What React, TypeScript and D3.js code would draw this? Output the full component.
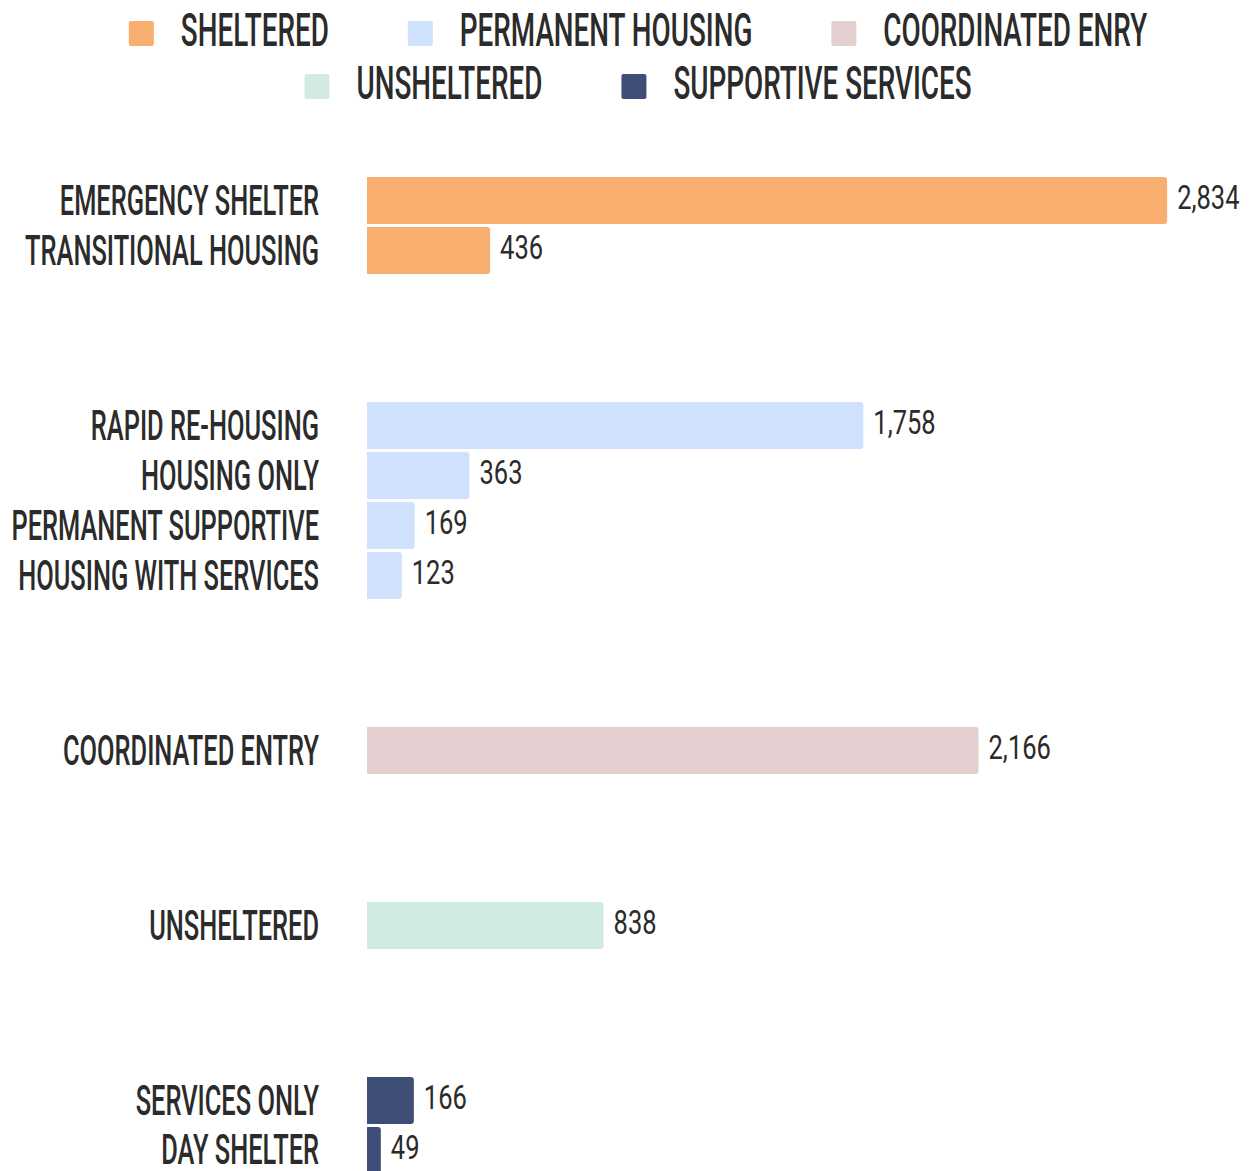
import React, { useEffect, useRef } from 'react';
import * as d3 from 'd3';

const groups = ['SHELTERED', 'PERMANENT HOUSING', 'COORDINATED ENRY', 'UNSHELTERED', 'SUPPORTIVE SERVICES'];
const groupColors = ['#F8AE6F', '#CFE1FC', '#E3CFCF', '#D2EBE1', '#3F4E77'];
const categories = [
  'EMERGENCY SHELTER', 'TRANSITIONAL HOUSING',
  'RAPID RE-HOUSING', 'HOUSING ONLY', 'PERMANENT SUPPORTIVE', 'HOUSING WITH SERVICES',
  'COORDINATED ENTRY',
  'UNSHELTERED',
  'SERVICES ONLY', 'DAY SHELTER',
];
const categoryGroup = [0, 0, 1, 1, 1, 1, 2, 3, 4, 4];
const values = [2834, 436, 1758, 363, 169, 123, 2166, 838, 166, 49];
const legendRows = [[0, 1, 2], [3, 4]];

const W = 1252;
const H = 1171;
const TEXT = '#2b2b2b';
const FONT = "Roboto, 'Noto Sans', 'DejaVu Sans', sans-serif";

function rightRounded(x0: number, x1: number, y: number, h: number, r: number) {
  const rr = Math.min(r, (x1 - x0) / 2, h / 2);
  return `M${x0},${y}H${x1 - rr}Q${x1},${y} ${x1},${y + rr}V${y + h - rr}Q${x1},${y + h} ${x1 - rr},${y + h}H${x0}Z`;
}

export default function App() {
  const ref = useRef<SVGSVGElement>(null);

  useEffect(() => {
    document.body.style.margin = '0';
    const svg = d3.select(ref.current);
    svg.selectAll('*').remove();

    const x = d3.scaleLinear().domain([0, 3000]).range([367, 1214]);
    const slotGap = 2.5;
    const slots = categories.map((_, i) => i + categoryGroup[i] * slotGap);
    const y = d3.scaleLinear().domain([0, 1]).range([175.5, 225.5]);
    const barH = 47;

    // Legend
    const legend = svg.append('g');
    const legendScale = 0.605;
    const rowBaselines = [46, 99];
    legendRows.forEach((row, ri) => {
      const items = row.map((gi) => {
        const g = legend.append('g');
        g.append('rect')
          .attr('width', 25).attr('height', 25).attr('rx', 2)
          .attr('fill', groupColors[gi]);
        const t = g.append('text')
          .attr('transform', `translate(52,25) scale(${legendScale},1)`)
          .attr('font-family', FONT).attr('font-size', 46).attr('font-weight', 500)
          .attr('fill', TEXT)
          .text(groups[gi]);
        const w = 52 + (t.node() as SVGTextElement).getComputedTextLength() * legendScale;
        return { g, w };
      });
      const gap = 79;
      const total = d3.sum(items, (d) => d.w) + gap * (items.length - 1);
      let cx = 638 - total / 2;
      items.forEach((it) => {
        it.g.attr('transform', `translate(${cx},${rowBaselines[ri] - 25})`);
        cx += it.w + gap;
      });
    });

    // Bars
    const bars = svg.append('g');
    categories.forEach((cat, i) => {
      const top = y(slots[i]) + 1.5;
      const mid = top + barH / 2;
      bars.append('path')
        .attr('d', rightRounded(x(0), x(values[i]), top, barH, 3))
        .attr('fill', groupColors[categoryGroup[i]]);
      bars.append('text')
        .attr('transform', `translate(319,${Math.min(mid, 1149)}) scale(0.605,1)`)
        .attr('text-anchor', 'end')
        .attr('dominant-baseline', 'central')
        .attr('font-family', FONT).attr('font-size', 42).attr('font-weight', 500)
        .attr('fill', TEXT)
        .text(cat);
      bars.append('text')
        .attr('transform', `translate(${x(values[i]) + 10},${Math.min(mid - 3, 1148)}) scale(0.75,1)`)
        .attr('dominant-baseline', 'central')
        .attr('font-family', FONT).attr('font-size', 34).attr('font-weight', 400)
        .attr('fill', TEXT)
        .text(d3.format(',')(values[i]));
    });
  }, []);

  return <svg ref={ref} width={W} height={H} style={{ display: 'block', background: '#fff' }} />;
}
